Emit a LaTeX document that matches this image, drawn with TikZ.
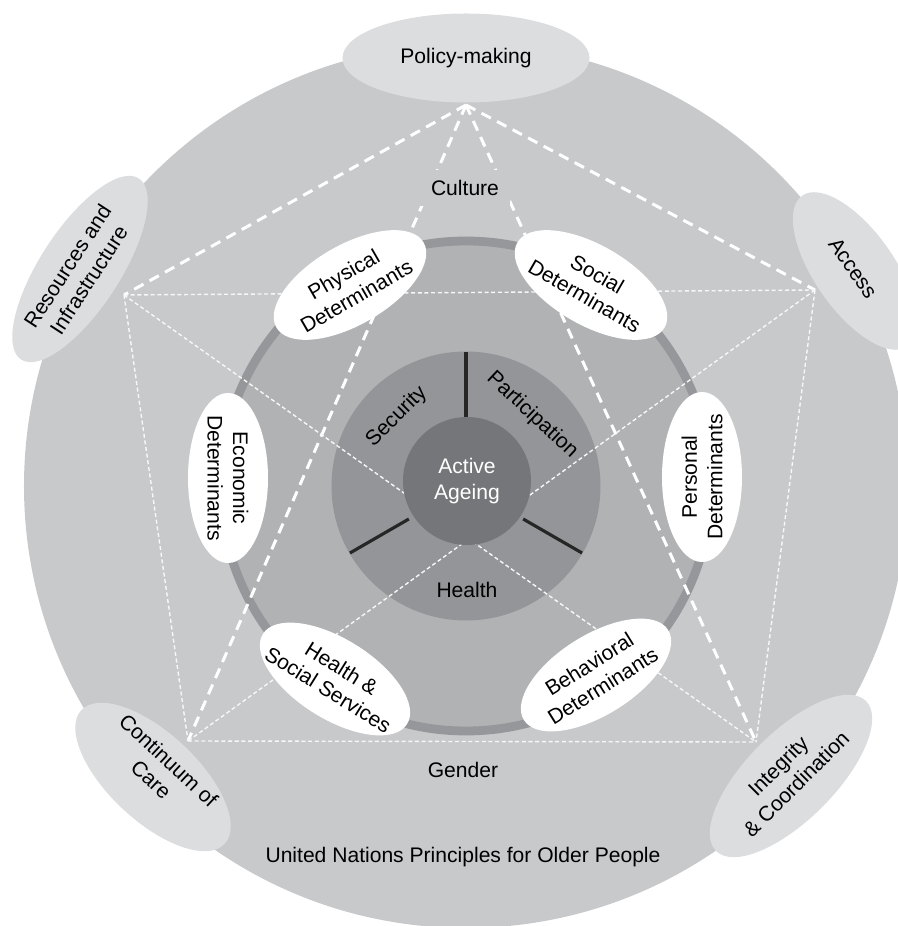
\documentclass[tikz,border=0pt]{standalone}
\usepackage{fontspec}
\setmainfont{Liberation Sans}
\definecolor{outergray}{HTML}{C8C9CB}
\definecolor{ovalgray}{HTML}{DCDDDF}
\definecolor{detgray}{HTML}{B1B2B4}
\definecolor{ringgray}{HTML}{96979A}
\definecolor{pillargray}{HTML}{939598}
\definecolor{coregray}{HTML}{75767A}
\tikzset{
  lbl/.style={font=\fontsize{12}{14.5}\selectfont, align=center, inner sep=0pt},
  policyline/.style={white, line width=1.7pt, dash pattern=on 6pt off 4pt},
  thinline/.style={white!94!gray, line width=0.8pt, dash pattern=on 2.3pt off 1.5pt},
  spoke/.style={black!85, line width=1.8pt},
}

\begin{document}
\begin{tikzpicture}[x=0.02cm,y=0.02cm]
	\useasboundingbox (-466,-440) rectangle (432,486);
	\clip (-466,-440) rectangle (432,486);
	% discs
	\fill[outergray] (0,0) circle (442);
	\fill[detgray] (0,0) circle (245);
	\draw[ringgray, line width=5pt] (0,0) circle (245);
	\fill[pillargray] (0,0) circle (134.5);
	% corners of the pentagon
	\coordinate (P) at (0,381);
	\coordinate (R) at (-342,191);
	\coordinate (A) at (349,196);
	\coordinate (C) at (-278,-255);
	\coordinate (I) at (290,-256);
	\foreach \v in {R,A,C,I}
		\draw[policyline] (P) -- (\v);
	\draw[thinline] (R) -- (A) (R) -- (C) (R) -- (I);
	\draw[thinline] (A) -- (C) (A) -- (I) (C) -- (I);
	\node[lbl, fill=outergray, inner sep=6pt] (culture) at (-1,298) {Culture};
	\node[lbl] (gender) at (-3,-284) {Gender};
	\node[lbl] (unprinc) at (-3,-371) {United Nations Principles for Older People};
	% pillars
	\foreach \a in {90,210,330}
		\draw[spoke] (\a:66) -- (\a:134);
	\node[lbl, rotate=45] (security) at (135:98) {Security};
	\node[lbl, rotate=-43] (particip) at (47:97) {Participation};
	\node[lbl] (health) at (1,-104) {Health};
	\fill[coregray] (1,5) circle (64);
	\node[lbl, white] (core) at (1,5) {Active\\Ageing};
	% determinants
	\coordinate (phys) at (-116,201);
	\coordinate (soc) at (125,201);
	\coordinate (econ) at (-238,8);
	\coordinate (pers) at (236,9);
	\coordinate (hss) at (-131,-193);
	\coordinate (behav) at (130,-189);
	\foreach \c/\r in {phys/30, soc/-30, econ/-90, pers/90, hss/-32, behav/32}
		\fill[white, rotate around={\r:(\c)}] (\c) ellipse (85 and 40);
	\node[lbl, rotate=30] (physlbl) at (phys) {Physical\\Determinants};
	\node[lbl, rotate=-30] (soclbl) at (soc) {Social\\Determinants};
	\node[lbl, rotate=-90] (econlbl) at (econ) {Economic\\Determinants};
	\node[lbl, rotate=90] (perslbl) at (pers) {Personal\\Determinants};
	\node[lbl, rotate=-32] (hsslbl) at (hss) {Health \&\\Social Services};
	\node[lbl, rotate=32] (behavlbl) at (behav) {Behavioral\\Determinants};
	% principles
	\fill[ovalgray] (0,428) ellipse (123.5 and 44.5);
	\fill[ovalgray, rotate around={57:(-386,217)}] (-386,217) ellipse (108 and 40);
	\fill[ovalgray, rotate around={-55:(389,215)}] (389,215) ellipse (92 and 40);
	\fill[ovalgray, rotate around={-43:(-313,-291)}] (-313,-291) ellipse (98 and 44);
	\fill[ovalgray, rotate around={45:(325,-290)}] (325,-290) ellipse (106 and 44);
	\node[lbl] (policy) at (0,428) {Policy-making};
	\node[lbl, rotate=57] (resources) at (-388,213) {Resources and\\Infrastructure};
	\node[lbl, rotate=-55] (access) at (387,218) {Access};
	\node[lbl, rotate=-43] (continuum) at (-306,-284) {Continuum of\\Care};
	\node[lbl, rotate=45] (integrity) at (321,-289) {Integrity\\\& Coordination};
\end{tikzpicture}
\end{document}
